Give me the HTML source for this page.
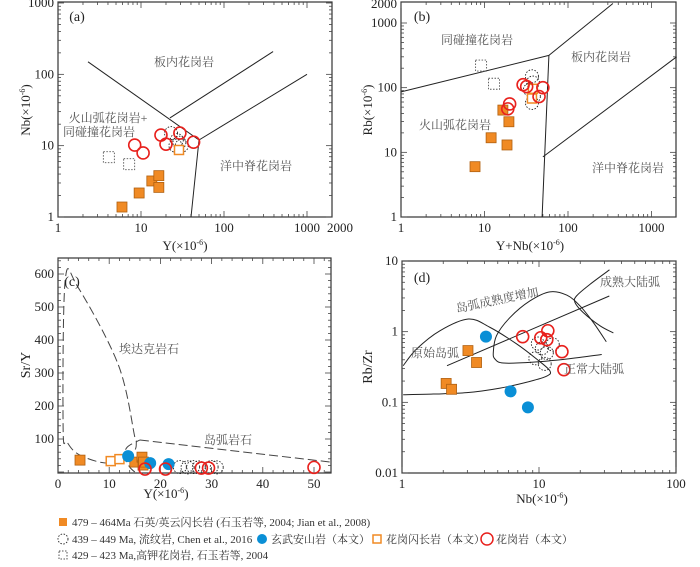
<!DOCTYPE html>
<html><head><meta charset="utf-8">
<style>
body{margin:0;background:#fff;}
svg text{font-family:"Liberation Serif","Noto Serif CJK SC",serif;}
</style></head>
<body>
<svg id="chart" width="700" height="562" viewBox="0 0 700 562" xmlns="http://www.w3.org/2000/svg"></svg>
<script>
// ---------- Panel (a): Y vs Nb ----------
const aSqY=[5.9,9.5,13.5,16.4,16.4];
const aSqNb=[1.38,2.17,3.2,3.8,2.6];
const aHsqY=[28.7];
const aHsqNb=[8.7];
const aRedY=[8.4,10.6,17.4,20,29.4,43];
const aRedNb=[10.2,7.9,14.1,10.5,15,11.2];
const aDotY=[23,26,29,31,27];
const aDotNb=[15,10,11,10,12];
const aDsqY=[4.1,7.2];
const aDsqNb=[6.9,5.5];
const aXTicks=[1,10,100,1000,2000];
const aYTicks=[1,10,100,1000];
// ---------- Panel (b): Y+Nb vs Rb ----------
const bSqX=[7.7,12,18.6,19.6,16.6];
const bSqRb=[6,16.8,13,29.7,45];
const bHsqX=[38,37];
const bHsqRb=[96,68];
const bRedX=[20,19,29,32,50,45];
const bRedRb=[56,47,111,104,100,73];
const bDotX=[37,38,35,37,39];
const bDotRb=[150,120,93,58,73];
const bDsqX=[9.1,13];
const bDsqRb=[220,115];
const bXTicks=[1,10,100,1000];
const bYTicks=[1,10,100,1000,2000];
// ---------- Panel (c): Y vs Sr/Y ----------
const cSqY=[4.3,15,16.4,16.6,16.7];
const cSqSrY=[36,30,45,21,30];
const cHsqY=[10.3,12];
const cHsqSrY=[33,39];
const cBlueY=[13.7,18,21.6];
const cBlueSrY=[48,27,24];
const cRedY=[17,21,28,29.4,50];
const cRedSrY=[9,9,12,12,14];
const cDotY=[23.8,25.3,26.4,27.5,30,31];
const cDotSrY=[15,14,15,14,15,14];
const cXTicks=[0,10,20,30,40,50];
const cYTicks=[100,200,300,400,500,600];
// ---------- Panel (d): Nb vs Rb/Zr ----------
const dSqNb=[3.03,3.5,2.1,2.3];
const dSqRZ=[0.54,0.366,0.185,0.153];
const dBlueNb=[4.1,6.2,8.3];
const dBlueRZ=[0.85,0.143,0.085];
const dRedNb=[7.6,10.3,11.6,11.4,14.7,15.2];
const dRedRZ=[0.85,0.82,1.03,0.77,0.52,0.29];
const dDotNb=[10.5,11.4,9.4,11,12.6,9.8];
const dDotRZ=[0.58,0.5,0.42,0.35,0.66,0.68];
const dXTicks=[1,10,100];
const dYTicks=[0.01,0.1,1,10];
// boundary lines (data units)
const aL1X=[2.3,50],aL1Y=[150,12];
const aL2X=[22.3,390],aL2Y=[24.5,208];
const aL3X=[50,1000],aL3Y=[12,100];
const aL4X=[50,40],aL4Y=[12,1];
const bL1X=[1,59],bL1Y=[86,315];
const bL2X=[59,345],bL2Y=[315,2000];
const bL3X=[59,49],bL3Y=[315,1];
const bL4X=[50,2000],bL4Y=[8.5,300];
const cAdakX=[15,11.8,3.9,1.4,1,1.8,4.3,10,14.6,15.3,15];
const cAdakY=[106,324,560,580,133,90,51,27,60,90,106];
const cArcX=[15,14,13,13.5,16,53.3];
const cArcY=[0,15,45,75,97,30];
const dPrimX=[1.02,1.28,1.89,3.05,4.39,6.87,9.6,12,11.4,8.6,5.2,2.97,1.69,1.02];
const dPrimY=[0.33,0.57,1.03,1.51,1.15,0.67,0.41,0.28,0.235,0.198,0.159,0.137,0.131,0.128];
const dNormX=[28.7,16,9.1,5.5,4.77,4.64,4.9,6.15,8.6,12,16,19.9,24.9,31];
const dNormY=[0.475,0.41,0.37,0.36,0.41,0.51,0.88,1.59,2.73,3.66,3.28,2.32,1.35,0.72];
const dMatX=[32.7,23.6,18.8,18.3,21,27.9,34.9];
const dMatY=[7.5,4.69,3.21,2.59,1.87,1.21,0.96];
const dTrendX=[2.13,32.6],dTrendY=[0.33,3.2];

const NS="http://www.w3.org/2000/svg";
const svg=document.getElementById('chart');
function mk(tag,attrs,parent){const e=document.createElementNS(NS,tag);for(const k in attrs)e.setAttribute(k,attrs[k]);(parent||svg).appendChild(e);return e;}
function logAx(p0,p1,v0,v1){const a=Math.log10(v0),b=Math.log10(v1);return v=>p0+(Math.log10(v)-a)/(b-a)*(p1-p0);}
function linAx(p0,p1,v0,v1){return v=>p0+(v-v0)/(v1-v0)*(p1-p0);}

function panel(cfg){
  const g=mk('g',{});
  
  
  const r=mk('rect',{x:cfg.x0,y:cfg.y0,width:cfg.x1-cfg.x0,height:cfg.y1-cfg.y0,fill:'none',stroke:'#333','stroke-width':1.2},g);
  
  
  const tg=mk('g',{stroke:'#444','stroke-width':0.8},g);
  
  
  function xt(v,len){const p=cfg.sx(v);if(p<cfg.x0-0.5||p>cfg.x1+0.5)return;mk('line',{x1:p,x2:p,y1:cfg.y1,y2:cfg.y1-len},tg);mk('line',{x1:p,x2:p,y1:cfg.y0,y2:cfg.y0+len},tg);}
  function yt(v,len){const p=cfg.sy(v);if(p<cfg.y0-0.5||p>cfg.y1+0.5)return;mk('line',{y1:p,y2:p,x1:cfg.x0,x2:cfg.x0+len},tg);mk('line',{y1:p,y2:p,x1:cfg.x1,x2:cfg.x1-len},tg);}
  if(cfg.xlog){for(let d=cfg.xd[0];d<cfg.xd[1];d++)for(let m=1;m<10;m++)xt(m*Math.pow(10,d),m==1?6:3);xt(Math.pow(10,cfg.xd[1]),6);}
  else{for(let v=0;v<=cfg.xmax;v+=2)xt(v,v%10==0?6:3);}
  if(cfg.ylog){for(let d=cfg.yd[0];d<cfg.yd[1];d++)for(let m=1;m<10;m++)yt(m*Math.pow(10,d),m==1?6:3);yt(Math.pow(10,cfg.yd[1]),6);}
  else{for(let v=0;v<=cfg.ymax;v+=20)yt(v,v%100==0?6:3);}
  cfg.xticks.forEach(v=>{const t=mk('text',{x:cfg.sx(v),y:cfg.y1+15,'text-anchor':'middle','font-size':13,fill:'#222'},g);t.textContent=v;});
  cfg.yticks.forEach(v=>{const t=mk('text',{x:cfg.x0-4,y:cfg.sy(v)+4,'text-anchor':'end','font-size':13,fill:'#222'},g);t.textContent=v;});
  return g;
}
function line(g,sx,sy,X,Y,attrs,name){
  const d=X.map((v,i)=>(i?'L':'M')+sx(v).toFixed(1)+','+sy(Y[i]).toFixed(1)).join('');
  const p=mk('path',Object.assign({d:d,fill:'none',stroke:'#222','stroke-width':1},attrs||{}),g);
  
  
}
function curve(g,sx,sy,X,Y,attrs,name){
  const P=X.map((v,i)=>[sx(v),sy(Y[i])]);
  let d='M'+P[0][0]+','+P[0][1];
  for(let i=0;i<P.length-1;i++){const p0=P[i-1]||P[i],p1=P[i],p2=P[i+1],p3=P[i+2]||p2;
    d+='C'+(p1[0]+(p2[0]-p0[0])/6)+','+(p1[1]+(p2[1]-p0[1])/6)+' '+(p2[0]-(p3[0]-p1[0])/6)+','+(p2[1]-(p3[1]-p1[1])/6)+' '+p2[0]+','+p2[1];}
  const p=mk('path',Object.assign({d:d,fill:'none',stroke:'#222','stroke-width':1},attrs||{}),g);
  
  
}
function pts(g,sx,sy,X,Y,type,name){
  X.forEach((v,i)=>{const x=sx(v),y=sy(Y[i]);let e;
    if(type=='sq')e=mk('rect',{x:x-5,y:y-5,width:10,height:10,fill:'#f08a24',stroke:'#b06010','stroke-width':0.8},g);
    else if(type=='hsq')e=mk('rect',{x:x-4.5,y:y-4.5,width:9,height:9,fill:'#fff',stroke:'#f08a24','stroke-width':1.5},g);
    else if(type=='dsq')e=mk('rect',{x:x-5.5,y:y-5.5,width:11,height:11,fill:'none',stroke:'#555','stroke-width':0.9,'stroke-dasharray':'1.5,1.5'},g);
    else if(type=='red')e=mk('circle',{cx:x,cy:y,r:6,fill:'none',stroke:'#e8211d','stroke-width':1.6},g);
    else if(type=='blue')e=mk('circle',{cx:x,cy:y,r:6,fill:'#0a8fd6'},g);
    else e=mk('circle',{cx:x,cy:y,r:6.5,fill:'none',stroke:'#222','stroke-width':0.9,'stroke-dasharray':'1.5,1.5'},g);
    
    
  });
}
function label(txt,x,y,opts){const o=opts||{};const t=mk('text',{x:x,y:y,'text-anchor':o.anchor||'middle','font-size':o.size||12,fill:o.fill||'#555'});if(o.rot)t.setAttribute('transform','rotate('+o.rot+' '+x+' '+y+')');t.textContent=txt;return t;}
function sup(x,y,pre,anchor,rot,name){const t=mk('text',{x:x,y:y,'text-anchor':anchor||'middle','font-size':13,fill:'#222'});if(rot)t.setAttribute('transform','rotate('+rot+' '+x+' '+y+')');t.innerHTML=pre+'(×10<tspan dy="-5" font-size="8">-6</tspan><tspan dy="5">)</tspan>';}

// Panel a
{const sx=logAx(58,307,1,1000),sy=logAx(217,3,1,1000);
 const g=panel({name:'panel-a',x0:58,x1:332,y0:2,y1:217,sx,sy,xlog:true,xd:[0,3],ylog:true,yd:[0,3],xticks:[1,10,100,1000],yticks:aYTicks});
 const t=mk('text',{x:340,y:232,'text-anchor':'middle','font-size':13,fill:'#222'});t.textContent=aXTicks[4];
 line(g,sx,sy,aL1X,aL1Y,{},'boundary-vag-wpg');line(g,sx,sy,aL2X,aL2Y,{},'boundary-wpg-orq');line(g,sx,sy,aL3X,aL3Y,{},'boundary-org-wpg');line(g,sx,sy,aL4X,aL4Y,{},'boundary-vag-org');
 pts(g,sx,sy,aSqY,aSqNb,'sq','tonalite-point');pts(g,sx,sy,aDsqY,aDsqNb,'dsq','high-k-granite-point');pts(g,sx,sy,aDotY,aDotNb,'dot','rhyolite-point');pts(g,sx,sy,aRedY,aRedNb,'red','granite-point');pts(g,sx,sy,aHsqY,aHsqNb,'hsq','granodiorite-point');
 label('(a)',77,21,{size:14,fill:'#222',name:'panel-label'});label('板内花岗岩',184,66);label('火山弧花岗岩+',108,122);label('同碰撞花岗岩',99,136);label('洋中脊花岗岩',256,170);
 sup(185,250,'Y','middle',0,'x-axis-title');sup(30,110,'Nb','middle',-90,'y-axis-title');}
// Panel b
{const sx=logAx(401,651.5,1,1000),sy=logAx(217,23,1,1000);
 const g=panel({name:'panel-b',x0:401,x1:676,y0:2,y1:217,sx,sy,xlog:true,xd:[0,3],ylog:true,yd:[0,3],xticks:bXTicks,yticks:[1,10,100,1000]});
 const t=mk('text',{x:397,y:8,'text-anchor':'end','font-size':13,fill:'#222'});t.textContent=bYTicks[4];
 line(g,sx,sy,bL1X,bL1Y,{},'boundary-syn-vag');line(g,sx,sy,bL2X,bL2Y,{},'boundary-syn-wpg');line(g,sx,sy,bL3X,bL3Y,{},'boundary-vag-wpg');line(g,sx,sy,bL4X,bL4Y,{},'boundary-wpg-org');
 pts(g,sx,sy,bSqX,bSqRb,'sq','tonalite-point');pts(g,sx,sy,bDsqX,bDsqRb,'dsq','high-k-granite-point');pts(g,sx,sy,bDotX,bDotRb,'dot','rhyolite-point');pts(g,sx,sy,bHsqX,bHsqRb,'hsq','granodiorite-point');pts(g,sx,sy,bRedX,bRedRb,'red','granite-point');
 label('(b)',422,21,{size:14,fill:'#222',name:'panel-label'});label('同碰撞花岗岩',477,44);label('板内花岗岩',601,61);label('火山弧花岗岩',455,129);label('洋中脊花岗岩',628,172);
 sup(530,250,'Y+Nb','middle',0,'x-axis-title');sup(372,110,'Rb','middle',-90,'y-axis-title');}
// Panel c
{const sx=linAx(58,314,0,50),sy=linAx(472,274,0,600);
 const g=panel({name:'panel-c',x0:58,x1:331,y0:258,y1:473,sx,sy,xlog:false,xmax:52,ylog:false,ymax:640,xticks:cXTicks,yticks:cYTicks});
 curve(g,sx,sy,cAdakX,cAdakY,{'stroke-dasharray':'9,4',stroke:'#444'},'adakite-field');curve(g,sx,sy,cArcX.slice(0,5),cArcY.slice(0,5),{'stroke-dasharray':'9,4',stroke:'#444'},'island-arc-field-curve');line(g,sx,sy,cArcX.slice(4),cArcY.slice(4),{'stroke-dasharray':'9,4',stroke:'#444'},'island-arc-field-line');
 pts(g,sx,sy,cDotY,cDotSrY,'dot','rhyolite-point');pts(g,sx,sy,cSqY,cSqSrY,'sq','tonalite-point');pts(g,sx,sy,cHsqY,cHsqSrY,'hsq','granodiorite-point');pts(g,sx,sy,cBlueY,cBlueSrY,'blue','basaltic-andesite-point');pts(g,sx,sy,cRedY,cRedSrY,'red','granite-point');
 label('(c)',72,286,{size:14,fill:'#222',name:'panel-label'});label('埃达克岩石',149,353);label('岛弧岩石',228,444);
 sup(166,498,'Y','middle',0,'x-axis-title');label('Sr/Y',30,365,{size:14,fill:'#222',rot:-90,anchor:'middle',name:'y-axis-title'});}
// Panel d
{const sx=logAx(402,676,1,100),sy=logAx(473,261,0.01,10);
 const g=panel({name:'panel-d',x0:402,x1:676,y0:261,y1:473,sx,sy,xlog:true,xd:[0,2],ylog:true,yd:[-2,1],xticks:dXTicks,yticks:dYTicks});
 curve(g,sx,sy,dPrimX,dPrimY,{},'primitive-arc-field');curve(g,sx,sy,dNormX,dNormY,{},'normal-continental-arc-field');curve(g,sx,sy,dMatX,dMatY,{},'mature-continental-arc-field');line(g,sx,sy,dTrendX,dTrendY,{},'maturity-trend-line');
 pts(g,sx,sy,dSqNb,dSqRZ,'sq','tonalite-point');pts(g,sx,sy,dBlueNb,dBlueRZ,'blue','basaltic-andesite-point');pts(g,sx,sy,dDotNb,dDotRZ,'dot','rhyolite-point');pts(g,sx,sy,dRedNb,dRedRZ,'red','granite-point');
 label('(d)',422,282,{size:14,fill:'#222',name:'panel-label'});label('岛弧成熟度增加',498,304,{rot:-12});label('成熟大陆弧',630,286);label('原始岛弧',435,357);label('正常大陆弧',594,373);
 sup(542,503,'Nb','middle',0,'x-axis-title');label('Rb/Zr',372,367,{size:14,fill:'#222',rot:-90,name:'y-axis-title'});}
// Legend
{const lg=mk('g',{});
 function ent(type,x,y,txt){const g=mk('g',{},lg);let e;
  if(type=='sq')e=mk('rect',{x:x-4,y:y-4,width:8,height:8,fill:'#f08a24'},g);
  else if(type=='dot')e=mk('circle',{cx:x,cy:y,r:5,fill:'none',stroke:'#222','stroke-width':0.9,'stroke-dasharray':'1.5,1.5'},g);
  else if(type=='dsq')e=mk('rect',{x:x-4,y:y-4,width:8,height:8,fill:'none',stroke:'#555','stroke-dasharray':'1.5,1.5'},g);
  else if(type=='blue')e=mk('circle',{cx:x,cy:y,r:5,fill:'#0a8fd6'},g);
  else if(type=='hsq')e=mk('rect',{x:x-4,y:y-4,width:8,height:8,fill:'none',stroke:'#f08a24','stroke-width':1.5},g);
  else e=mk('circle',{cx:x,cy:y,r:6,fill:'none',stroke:'#e8211d','stroke-width':1.5},g);
  
  const t=mk('text',{x:x+9,y:y+4,'font-size':11,fill:'#333'},g);t.textContent=txt;}
 ent('sq',63,522,'479 – 464Ma  石英/英云闪长岩  (石玉若等, 2004; Jian et al., 2008)');
 ent('dot',63,539,'439 – 449 Ma, 流纹岩, Chen et al., 2016');
 ent('blue',262,539,'玄武安山岩（本文）');
 ent('hsq',377,539,'花岗闪长岩（本文）');
 ent('red',487,539,'花岗岩（本文）');
 ent('dsq',63,555,'429 – 423 Ma,高钾花岗岩, 石玉若等, 2004');}
</script>
</body></html>
